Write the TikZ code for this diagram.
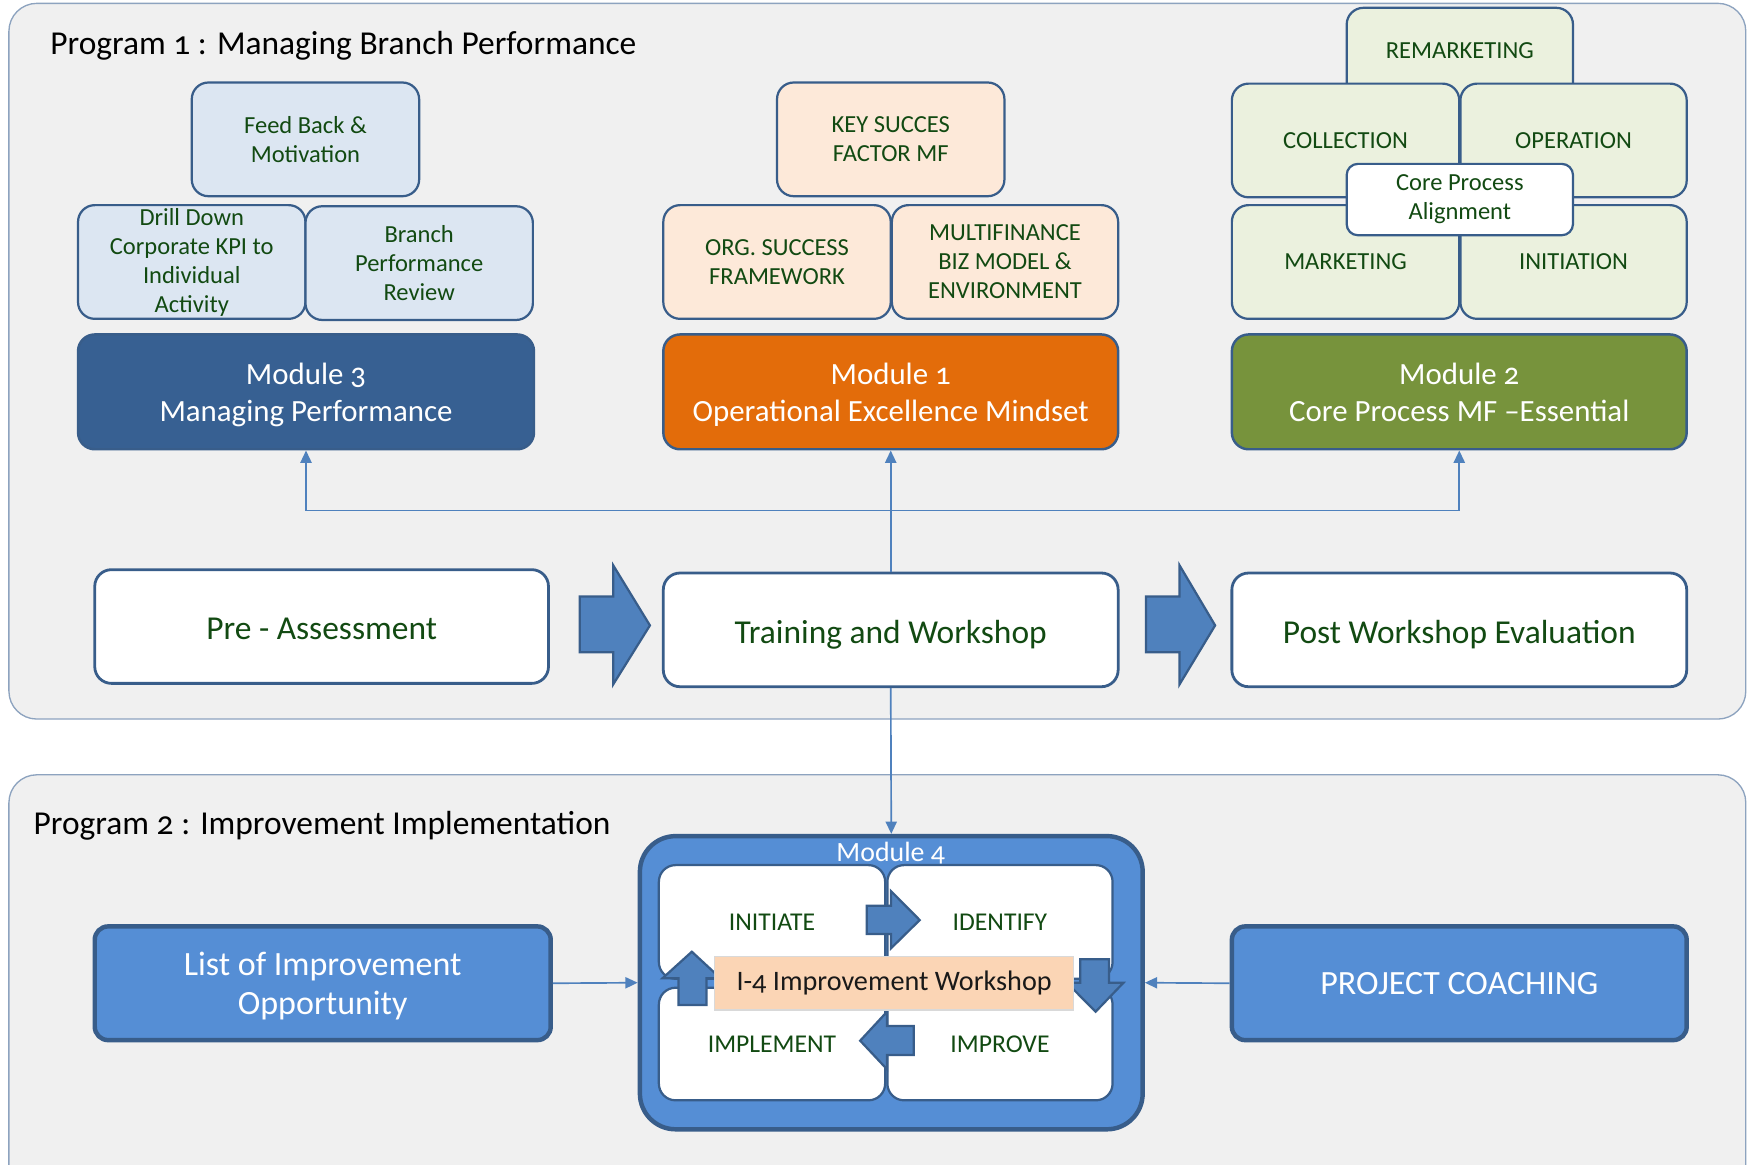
\documentclass[tikz,border=0pt]{standalone}
\usepackage{fontspec}
\setmainfont{Carlito}[Numbers=OldStyle]
\usetikzlibrary{arrows.meta}
\definecolor{panelfill}{HTML}{F0F0F0}
\definecolor{panelline}{HTML}{8DA3BF}
\definecolor{edge}{HTML}{385D8A}
\definecolor{lblue}{HTML}{DCE6F2}
\definecolor{lpeach}{HTML}{FDE9D9}
\definecolor{lgreen}{HTML}{EBF1DE}
\definecolor{mblue}{HTML}{376092}
\definecolor{morange}{HTML}{E36C0A}
\definecolor{mgreen}{HTML}{77933C}
\definecolor{conn}{HTML}{4F81BD}
\definecolor{bright}{HTML}{558ED5}
\definecolor{txtgreen}{HTML}{124A12}
\definecolor{labpeach}{HTML}{FBD5B5}
\newcommand\fsSmall{\fontsize{22}{26}\selectfont}
\newcommand\fsInner{\fontsize{23}{26}\selectfont}
\newcommand\fsMod{\fontsize{27.7}{34}\selectfont}
\newcommand\fsBright{\fontsize{30.5}{35}\selectfont}
\newcommand\fsProc{\fontsize{30}{34}\selectfont}
\newcommand\fsTitle{\fontsize{30}{36}\selectfont}
\newcommand\ms{\rule[-7pt]{0pt}{34pt}}
\newcommand\bs{\rule[-7pt]{0pt}{35pt}}
\newcommand\ps{\rule[-6pt]{0pt}{36pt}}
\begin{document}
\begin{tikzpicture}[x=1pt,y=-1pt,
  base/.style={draw=edge,line width=2,rounded corners=15,inner sep=0pt,align=center,text=txtgreen,font=\fsSmall},
  bluebox/.style={base,fill=lblue,minimum width=204,minimum height=102},
  peachbox/.style={base,fill=lpeach,minimum width=204,minimum height=102},
  greenbox/.style={base,fill=lgreen,minimum width=204,minimum height=102},
  modbox/.style={base,line width=2.2,text=white,font=\fsMod,minimum width=408,minimum height=103},
  procbox/.style={base,line width=2.5,fill=white,font=\fsProc,minimum width=408,minimum height=102},
  innerbox/.style={base,fill=white,minimum width=203,minimum height=102,text=txtgreen,font=\fsInner},
  brightbox/.style={base,line width=4,fill=bright,text=white,font=\fsBright,rounded corners=12,minimum width=409,minimum height=102},
  connline/.style={draw=conn,line width=1.5,-{Triangle[length=11pt,width=10pt]}},
  blockarrow/.style={fill=conn,draw=edge,line width=2,line join=miter},
  title/.style={font=\fsTitle,anchor=west,text=black,inner sep=0pt}]
\useasboundingbox (0,0) rectangle (1568,1045);
\begin{scope}
\clip (0,0) rectangle (1568,1045);
% panels
\draw[fill=panelfill,draw=panelline,line width=1.2,rounded corners=25] (8,3) rectangle (1566,645);
\draw[fill=panelfill,draw=panelline,line width=1.2,rounded corners=25] (8,695) rectangle (1566,1075);
\end{scope}
\node[title] (t1) at (45,41) {Program 1 : Managing Branch Performance};
\node[title] (t2) at (30,741) {Program 2 : Improvement Implementation};
% Module 3 stack
\node[bluebox] (fb) at (274,125) {Feed Back \&\\Motivation};
\node[bluebox] (dd) at (172,235) {Drill Down\\Corporate KPI to\\Individual\\Activity};
\node[bluebox] (bpr) at (376,236) {Branch\\Performance\\Review};
\node[modbox,fill=mblue,minimum width=409] (m3) at (274.5,351.5) {\ms Module 3\\\ms Managing Performance};
% Module 1 stack
\node[peachbox] (ksf) at (799,125) {KEY SUCCES\\FACTOR MF};
\node[peachbox] (org) at (697,235) {ORG. SUCCESS\\FRAMEWORK};
\node[peachbox,minimum width=203] (mf) at (901.5,235) {MULTIFINANCE\\BIZ MODEL \&\\ENVIRONMENT};
\node[modbox,fill=morange] (m1) at (799,351.5) {\ms Module 1\\\ms Operational Excellence Mindset};
% Module 2 stack
\node[greenbox,minimum width=203,minimum height=110] (rem) at (1309.5,62) {};
\node[inner sep=0pt,text=txtgreen,font=\fsSmall] (remt) at (1309.5,45) {REMARKETING};
\node[greenbox] (col) at (1207,126) {COLLECTION};
\node[greenbox,minimum width=203] (ope) at (1411.5,126) {OPERATION};
\node[greenbox] (mkt) at (1207,235) {MARKETING};
\node[greenbox,minimum width=203] (ini) at (1411.5,235) {INITIATION};
\node[base,fill=white,rounded corners=10,minimum width=203,minimum height=64,text=txtgreen] (cpa) at (1309.5,179) {Core Process\\Alignment};
\node[modbox,fill=mgreen] (m2) at (1309,351.5) {\ms Module 2\\\ms Core Process MF –Essential};
% process row
\node[procbox,minimum width=407] (pre) at (288.5,562) {\ps Pre - Assessment};
\node[procbox] (trn) at (799,565) {\ps Training and Workshop};
\node[procbox] (post) at (1309,565) {\ps Post Workshop Evaluation};
% block arrows between processes
\draw[blockarrow] (520,535) -- (550,535) -- (550,507) -- (583,561) -- (550,614) -- (550,585) -- (520,585) -- cycle;
\draw[blockarrow] (1028,535) -- (1058,535) -- (1058,507) -- (1090,561) -- (1058,614) -- (1058,585) -- (1028,585) -- cycle;
% connectors to modules
\coordinate (hub) at (799,458);
\draw[connline] (trn.north) -- (m1.south);
\draw[connline] (hub) -| (m3.south);
\draw[connline] (hub) -| (m2.south);
% Module 4
\node[base,line width=4,fill=bright,rounded corners=32,minimum width=451,minimum height=263] (m4) at (799.5,881.5) {};
\node[inner sep=0pt,text=white,font=\fontsize{25}{30}\selectfont] (m4t) at (799,765) {Module 4};
\node[innerbox] (initiate) at (692.5,827) {INITIATE};
\node[innerbox,minimum width=202] (identify) at (897,827) {IDENTIFY};
\node[innerbox,minimum height=101] (implement) at (692.5,936.5) {IMPLEMENT};
\node[innerbox,minimum width=202,minimum height=101] (improve) at (897,936.5) {IMPROVE};
% inner block arrows
\draw[blockarrow] (777.5,812.4) -- (799.2,812.4) -- (799.2,799.3) -- (825,825.3) -- (799.2,850.7) -- (799.2,837.9) -- (777.5,837.9) -- cycle;
\draw[blockarrow] (969.1,860.5) -- (994.8,860.5) -- (994.8,881.5) -- (1007.8,881.5) -- (982.8,907.5) -- (957,881.5) -- (969.1,881.5) -- cycle;
\draw[blockarrow] (819.7,920.3) -- (795.7,920.3) -- (795.7,907.5) -- (771.6,933.5) -- (795.7,959.2) -- (795.7,946.4) -- (819.7,946.4) -- cycle;
\draw[blockarrow] (608.6,901.5) -- (608.6,877.6) -- (594.2,877.6) -- (620.6,853.7) -- (646.4,877.6) -- (633.7,877.6) -- (633.7,901.5) -- cycle;
\node[draw=black!15,line width=1,fill=labpeach,minimum width=322,minimum height=48,inner sep=0pt,text=black!90,font=\fontsize{25.3}{28}\selectfont] (i4) at (802,882) {I-4 Improvement Workshop};
% connector to module 4
\draw[connline] (trn.south) -- (m4.north);
% side boxes
\node[brightbox] (list) at (289.5,882) {\bs List of Improvement\\\bs Opportunity};
\node[brightbox,minimum width=408] (coach) at (1309,882) {\bs PROJECT COACHING};
\draw[connline] (list.east) -- (m4.west);
\draw[connline] (coach.west) -- (m4.east);
\end{tikzpicture}
\end{document}
